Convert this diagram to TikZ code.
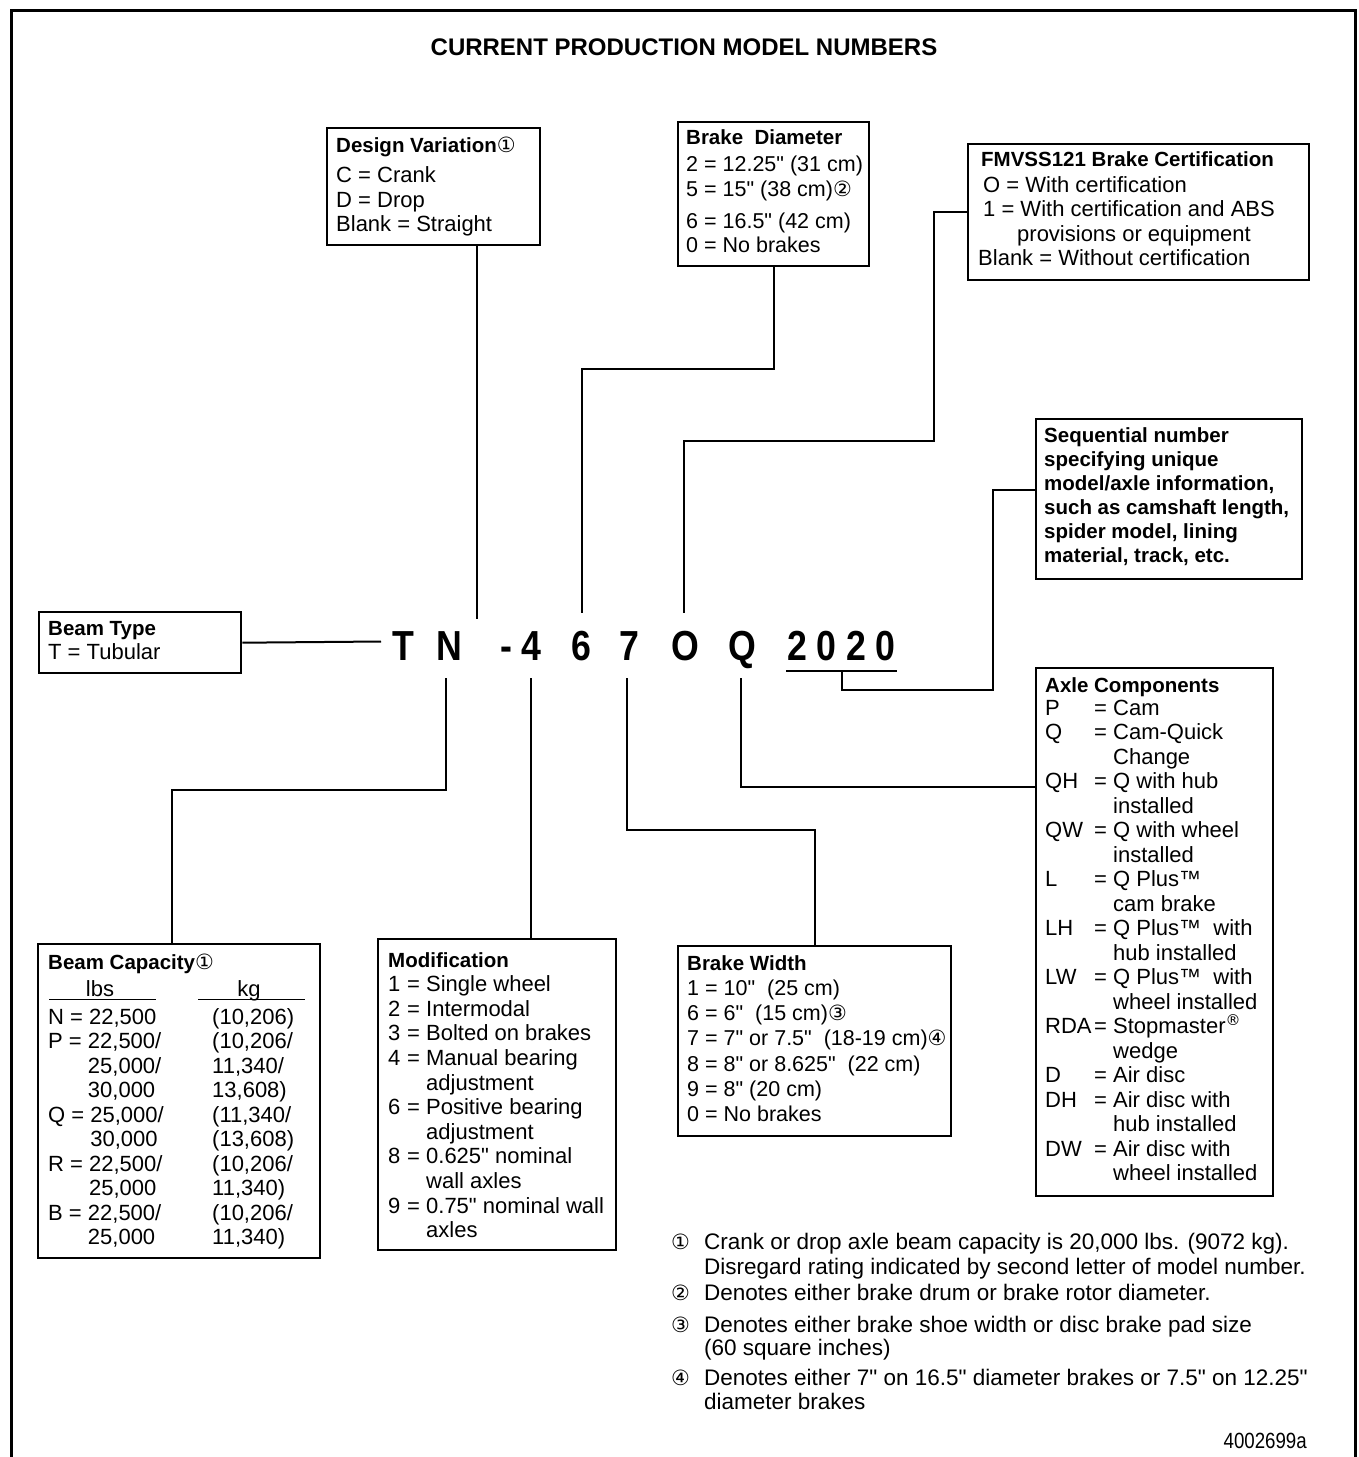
\documentclass[tikz,border=0pt]{standalone}
\usepackage{fontspec}
\usetikzlibrary{calc}
\setmainfont{Liberation Sans}[Ligatures=TeXOff]
\newfontfamily\symf{DejaVu Sans}
\newfontfamily\condf[FakeStretch=0.85]{Liberation Sans}
\newcommand\cn[1]{{\symf\fontsize{21}{21}\selectfont #1}}
\newcommand\bodyf{\fontsize{22}{24.5}\selectfont}
\newcommand\hd[1]{{\fontsize{20.5}{24.5}\selectfont\bfseries #1}}
\newcommand\bigf{\condf\bfseries\fontsize{42}{42}\selectfont}
\newcommand\mr[2]{\makebox[19pt][l]{#1}= #2}
\newcommand\mc[1]{\hspace*{38pt}#1}
\newcommand\regm{\raisebox{8pt}{\symf\fontsize{15}{15}\selectfont ®}}
\tikzset{
  box/.style={draw, line width=2.4pt, inner sep=0pt, anchor=north west},
  txt/.style={inner sep=0pt, anchor=base west, align=left, font=\bodyf},
  conn/.style={line width=2pt},
  big/.style={inner sep=0pt, anchor=base, font=\bigf},
}
\begin{document}
\begin{tikzpicture}[x=1pt,y=-1pt]
\useasboundingbox (0,0) rectangle (1358,1457);
% frame
\draw[line width=3pt] (11,1457) -- (11,10) -- (1355,10) -- (1355,1457);
% title
\node[anchor=base, inner sep=0pt, font=\fontsize{24}{24}\selectfont\bfseries] (title) at (684,55) {CURRENT PRODUCTION MODEL NUMBERS};

% model number
\node[big] (lT) at (403,660) {T};
\node[big] (lN) at (449,660) {N};
\node[big] (lh) at (506,660) {-};
\node[big] (l4) at (531,660) {4};
\node[big] (l6) at (581,660) {6};
\node[big] (l7) at (629,660) {7};
\node[big] (lO) at (685,660) {O};
\node[big] (lQ) at (742,660) {Q};
\node[big] (la) at (797,660) {2};
\node[big] (lb) at (826,660) {0};
\node[big] (lc) at (856,660) {2};
\node[big] (ld) at (885,660) {0};
\draw[line width=2.6pt] (786,671) -- (897,671);

% connector free ends
\coordinate (eT) at (381,641.5);
\coordinate (eDV) at (477,619);
\coordinate (e6) at (582,613);
\coordinate (eO) at (684,613);
\coordinate (eN) at (446,678);
\coordinate (e4) at (531,678);
\coordinate (e7) at (627,678);
\coordinate (eQ) at (741,678);
\coordinate (e2020) at (842,671);

% boxes
\node[box, minimum width=213pt, minimum height=117pt] (dv) at (326,127) {};
\node[box, minimum width=191pt, minimum height=144pt] (bd) at (677,121) {};
\node[box, minimum width=341pt, minimum height=136pt] (fm) at (967,143) {};
\node[box, minimum width=266pt, minimum height=160pt] (sq) at (1035,418) {};
\node[box, minimum width=202pt, minimum height=61pt] (bt) at (38,611) {};
\node[box, minimum width=237pt, minimum height=528pt] (ax) at (1035,667) {};
\node[box, minimum width=282pt, minimum height=314pt] (bc) at (37,943) {};
\node[box, minimum width=238pt, minimum height=311pt] (mo) at (377,938) {};
\node[box, minimum width=273pt, minimum height=190pt] (bw) at (677,945) {};

% connectors
\draw[conn] (bt.east) -- (eT);
\draw[conn] (eDV |- dv.south) -- (eDV);
\draw[conn] (bd.south) -- ++(0,102) -| (e6);
\draw[conn] (fm.west) -- ++(-33,0) -- ++(0,229) -| (eO);
\draw[conn] (e2020) -- ++(0,19) -| ($(sq.north west)+(-42,72)$) -- ($(sq.north west)+(0,72)$);
\draw[conn] (eQ) |- ($(ax.north west)+(0,120)$);
\draw[conn] (eN) -- ++(0,112) -| ($(bc.north west)+(135,0)$);
\draw[conn] (e4) -- (e4 |- mo.north);
\draw[conn] (e7) -- ++(0,152) -| (bw.north);

% texts (base anchor = baseline of last line)
\node[txt] (dvt) at (336,231.5) {\hd{Design Variation}\cn{①}\\[6pt]C = Crank\\D = Drop\\Blank = Straight};
\node[txt, font=\fontsize{21.5}{24.5}\selectfont] (bdt) at (686,252) {\hd{Brake\ \ Diameter}\\[2.5pt]2 = 12.25" (31 cm)\\[0.5pt]5 = 15" (38 cm)\cn{②}\\[7.5pt]6 = 16.5" (42 cm)\\[-0.5pt]0 = No brakes};
\node[txt] (fmt) at (978,265.5) {\hspace*{3pt}\hd{FMVSS121 Brake Certification}\\[1.5pt]\hspace*{5pt}O = With certification\\\hspace*{5pt}1 = With certification and ABS\\\hspace*{39pt}provisions or equipment\\Blank = Without certification};
\node[txt, font=\fontsize{20.5}{24}\selectfont\bfseries] (sqt) at (1044,562) {Sequential number\\specifying unique\\model/axle information,\\such as camshaft length,\\spider model, lining\\material, track, etc.};
\node[txt] (btt) at (48,659) {\hd{Beam Type}\\[-0.5pt]T = Tubular};

\node[txt] (axt) at (1045,692) {\hd{Axle Components}};
\node[txt] (axc) at (1045,1180.5) {P\\Q\\{}\\QH\\{}\\QW\\{}\\L\\{}\\LH\\{}\\LW\\{}\\RDA\\{}\\D\\DH\\{}\\DW\\{}};
\node[txt] (axd) at (1094,1180.5) {= Cam\\= Cam-Quick\\\phantom{= }Change\\= Q with hub\\\phantom{= }installed\\= Q with wheel\\\phantom{= }installed\\= Q Plus™\\\phantom{= }cam brake\\= Q Plus™ ~with\\\phantom{= }hub installed\\= Q Plus™ ~with\\\phantom{= }wheel installed\\= Stopmaster\regm\\\phantom{= }wedge\\= Air disc\\= Air disc with\\\phantom{= }hub installed\\= Air disc with\\\phantom{= }wheel installed};

\node[txt] (bct) at (48,969) {\hd{Beam Capacity}\cn{①}};
\node[anchor=base, inner sep=0pt, font=\bodyf] (lbs) at (100,996) {lbs};
\node[anchor=base, inner sep=0pt, font=\bodyf] (kg) at (249,996) {kg};
\draw[line width=1.6pt] (49,999.5) -- (156,999.5);
\draw[line width=1.6pt] (198,999.5) -- (305,999.5);
\node[txt] (bc1) at (48,1244.5) {N = 22,500\\P = 22,500/\\\phantom{P = }25,000/\\\phantom{P = }30,000\\Q = 25,000/\\\phantom{Q = }30,000\\R = 22,500/\\\phantom{R = }25,000\\B = 22,500/\\\phantom{B = }25,000};
\node[txt] (bc2) at (212,1244.5) {(10,206)\\(10,206/\\11,340/\\13,608)\\(11,340/\\(13,608)\\(10,206/\\11,340)\\(10,206/\\11,340)};

\node[txt, font=\fontsize{22}{24.6}\selectfont] (mot) at (388,1237.6) {\hd{Modification}\\\mr{1}{Single wheel}\\\mr{2}{Intermodal}\\\mr{3}{Bolted on brakes}\\\mr{4}{Manual bearing}\\\mc{adjustment}\\\mr{6}{Positive bearing}\\\mc{adjustment}\\\mr{8}{0.625" nominal}\\\mc{wall axles}\\\mr{9}{0.75" nominal wall}\\\mc{axles}};

\node[txt, font=\fontsize{21.5}{25.3}\selectfont] (bwt) at (687,1121.8) {\hd{Brake Width}\\1 = 10"\ \ (25 cm)\\6 = 6"\ \ (15 cm)\cn{③}\\7 = 7" or 7.5"\ \ (18-19 cm)\cn{④}\\8 = 8" or 8.625"\ \ (22 cm)\\9 = 8" (20 cm)\\0 = No brakes};

% footnotes
\node[txt] (n1) at (671,1249) {\cn{①}};
\node[txt, font=\fontsize{22.5}{25}\selectfont] (f1) at (704,1274) {Crank or drop axle beam capacity is 20,000 lbs. (9072 kg).\\Disregard rating indicated by second letter of model number.};
\node[txt] (n2) at (671,1300) {\cn{②}};
\node[txt, font=\fontsize{22.5}{25}\selectfont] (f2) at (704,1300) {Denotes either brake drum or brake rotor diameter.};
\node[txt] (n3) at (671,1332) {\cn{③}};
\node[txt, font=\fontsize{22.5}{23.5}\selectfont] (f3) at (704,1355.5) {Denotes either brake shoe width or disc brake pad size\\(60 square inches)};
\node[txt] (n4) at (671,1385) {\cn{④}};
\node[txt, font=\fontsize{22.5}{24}\selectfont] (f4) at (704,1409) {Denotes either 7" on 16.5" diameter brakes or 7.5" on 12.25"\\diameter brakes};
\node[anchor=base east, inner sep=0pt, font=\condf\fontsize{22}{22}\selectfont] (code) at (1307,1448) {4002699a};
\end{tikzpicture}
\end{document}
